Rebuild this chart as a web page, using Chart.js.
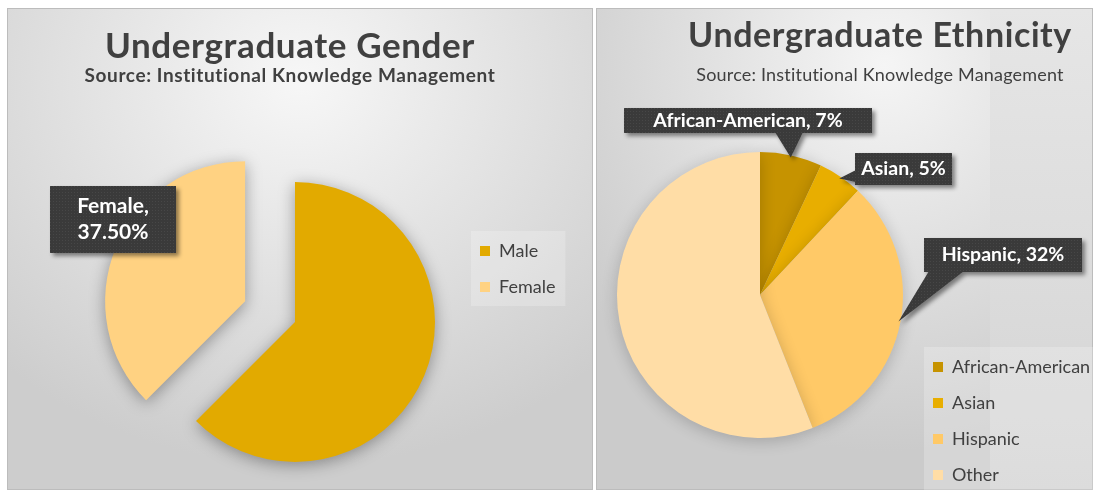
<!DOCTYPE html>
<html>
<head>
<meta charset="utf-8">
<title>Undergraduate Gender and Ethnicity</title>
<script src="https://cdn.jsdelivr.net/npm/chart.js@4.4.1/dist/chart.umd.min.js"></script>
<style>
  html, body { margin: 0; padding: 0; background: #fff; }
  body { width: 1097px; height: 492px; position: relative; overflow: hidden; font-family: Lato, "Open Sans", sans-serif; }
  .panel { position: absolute; top: 8px; height: 482px; overflow: hidden; box-shadow: inset 0 0 0 1px #bcbcbc; }
  #leftPanel {
    left: 7px; width: 586px;
    background: radial-gradient(ellipse 75% 80% at 50% 15%, #f7f7f7 0%, #e4e4e4 45%, #cdcdcd 100%);
  }
  #rightPanel {
    left: 596px; width: 497px;
    background:
      linear-gradient(#e6e6e6, #dbdbdb 60%, #d3d3d3) 394px 0 / 103px 100% no-repeat,
      radial-gradient(ellipse 75% 80% at 58% 12%, #f5f5f5 0%, #e2e2e2 45%, #cbcbcb 100%);
  }
  .title { position: absolute; white-space: nowrap; color: #404040; transform: translateX(-50%); line-height: 1.2; }
  canvas { position: absolute; left: 0; top: 0; }
</style>
</head>
<body>
<div class="panel" id="leftPanel">
  <canvas id="genderChart" width="586" height="482"></canvas>
  <div class="title" style="left:283px; top:14.5px; font-size:35px; font-weight:700; letter-spacing:0.6px;">Undergraduate Gender</div>
  <div class="title" style="left:283px; top:56px; font-size:19px; font-weight:700; letter-spacing:0.6px;">Source: Institutional Knowledge Management</div>
</div>
<div class="panel" id="rightPanel">
  <canvas id="ethnicChart" width="497" height="500"></canvas>
  <div class="title" style="left:284px; top:5.5px; font-size:34px; font-weight:700; letter-spacing:0.6px;">Undergraduate Ethnicity</div>
  <div class="title" style="left:284px; top:56px; font-size:18px; font-weight:400; letter-spacing:0.2px;">Source: Institutional Knowledge Management</div>
</div>
<script>
// ---------- data ----------
var genderLabels = ["Male", "Female"];
var genderValues = [62.5, 37.5];
var genderColors = ["#E2AA00", "#FFD282"];

var ethnicLabels = ["African-American", "Asian", "Hispanic", "Other"];
var ethnicValues = [7, 5, 32, 56];
var ethnicColors = ["#C69300", "#E8AE00", "#FFC967", "#FFDDA6"];

// ---------- pie whose slices can be pulled straight out (Excel style) ----------
class ExplodedPieController extends Chart.PieController {
  draw() {
    var ctx = this.chart.ctx;
    var area = this.chart.chartArea;
    var explode = this.getDataset().explode || [];
    this._cachedMeta.data.forEach(function (arc, i) {
      var d = explode[i] || 0;
      var mid = (arc.startAngle + arc.endAngle) / 2;
      ctx.save();
      ctx.translate(Math.cos(mid) * d, Math.sin(mid) * d);
      arc.draw(ctx, area);
      ctx.restore();
    });
  }
}
ExplodedPieController.id = "explodedPie";
Chart.register(ExplodedPieController);

// ---------- dark callout texture ----------
function makePattern(ctx) {
  var c = document.createElement("canvas");
  c.width = 3; c.height = 3;
  var p = c.getContext("2d");
  p.fillStyle = "#3a3a3a";
  p.fillRect(0, 0, 3, 3);
  p.fillStyle = "#474747";
  p.fillRect(1, 1, 1, 1);
  return ctx.createPattern(c, "repeat");
}

// slice shadow, legend backdrop and data label callouts
var calloutPlugin = {
  id: "callouts",
  beforeDraw: function (chart, args, opts) {
    var lg = chart.legend;
    if (!lg || !lg.legendHitBoxes.length) return;
    var hb = lg.legendHitBoxes;
    var x0 = hb[0].left - 9, y0 = hb[0].top - 11;
    var x1 = 0, y1 = 0;
    hb.forEach(function (h) {
      x1 = Math.max(x1, h.left + h.width + 10);
      y1 = Math.max(y1, h.top + h.height + 10);
    });
    var ctx = chart.ctx;
    ctx.save();
    ctx.fillStyle = "rgba(255,255,255,0.22)";
    ctx.fillRect(x0, y0, x1 - x0, y1 - y0);
    ctx.restore();
  },
  beforeDatasetsDraw: function (chart, args, opts) {
    var ctx = chart.ctx;
    ctx.save();
    ctx.shadowColor = opts.shadow;
    ctx.shadowBlur = 16;
    ctx.shadowOffsetY = 3;
  },
  afterDatasetsDraw: function (chart, args, opts) {
    var ctx = chart.ctx;
    ctx.restore();
    var meta = chart.getDatasetMeta(0);
    var ds = chart.data.datasets[0];
    var labels = chart.data.labels;
    var pattern = makePattern(ctx);
    opts.boxes.forEach(function (b) {
      var arc = meta.data[b.index];
      var p = arc.getProps(["x", "y", "startAngle", "endAngle", "outerRadius"], true);
      var mid = (p.startAngle + p.endAngle) / 2;
      var r = p.outerRadius - 2 + ((ds.explode || [])[b.index] || 0);
      var tx = p.x + Math.cos(mid) * r;
      var ty = p.y + Math.sin(mid) * r;

      ctx.save();
      ctx.shadowColor = "rgba(0,0,0,0.45)";
      ctx.shadowBlur = 4;
      ctx.shadowOffsetX = 3;
      ctx.shadowOffsetY = 3;
      ctx.fillStyle = pattern;
      ctx.beginPath();
      ctx.rect(b.x, b.y, b.w, b.h);
      if (b.side === "bottom") {
        var by = b.y + b.h - 1;
        ctx.moveTo(b.base[1], by);
        ctx.lineTo(tx, ty);
        ctx.lineTo(b.base[0], by);
        ctx.closePath();
      } else if (b.side === "left") {
        var bx = b.x + 1;
        ctx.moveTo(bx, b.base[1]);
        ctx.lineTo(tx, ty);
        ctx.lineTo(bx, b.base[0]);
        ctx.closePath();
      }
      ctx.fill();
      ctx.restore();

      var text = opts.format(labels[b.index], ds.data[b.index]);
      var lines = b.split ? text.split(" ") : [text];
      ctx.save();
      ctx.fillStyle = "#ffffff";
      ctx.font = "bold " + opts.fontSize + "px Lato";
      ctx.textAlign = "center";
      ctx.textBaseline = "middle";
      var lh = 26;
      var cy = b.y + b.h / 2 - (lines.length - 1) * lh / 2;
      lines.forEach(function (ln, i) {
        ctx.fillText(ln, b.x + b.w / 2, cy + i * lh);
      });
      ctx.restore();
    });
  }
};

// legend sits on the right; its left edge is pinned by measuring the longest label
var LEGEND_FONT = 18, LEGEND_PAD = 18, LEGEND_BOX = 10;
function legendWidth(labels) {
  var m = document.createElement("canvas").getContext("2d");
  m.font = LEGEND_FONT + "px Lato";
  var w = 0;
  labels.forEach(function (t) { w = Math.max(w, m.measureText(t).width); });
  return LEGEND_PAD + LEGEND_BOX + LEGEND_FONT / 2 + w + 10;
}
function legendOpts(align) {
  return {
    position: "right",
    align: align,
    labels: {
      boxWidth: LEGEND_BOX,
      boxHeight: LEGEND_BOX,
      padding: LEGEND_PAD,
      color: "#404040",
      font: { family: "Lato", size: LEGEND_FONT }
    }
  };
}

// ---------- gender pie ----------
var gCanvas = document.getElementById("genderChart");
var gLegendLeft = 455;
new Chart(gCanvas, {
  type: "explodedPie",
  data: {
    labels: genderLabels,
    datasets: [{
      data: genderValues,
      backgroundColor: genderColors,
      borderWidth: 0,
      explode: [0, 54],
      radius: 140,
      clip: false
    }]
  },
  options: {
    responsive: false,
    animation: false,
    layout: { padding: { left: 121, right: gCanvas.width - gLegendLeft - legendWidth(genderLabels), top: 216, bottom: 70 } },
    plugins: {
      legend: legendOpts("start"),
      tooltip: { enabled: false },
      callouts: {
        shadow: "rgba(0,0,0,0.35)",
        fontSize: 21,
        format: function (label, v) { return label + ", " + v.toFixed(2) + "%"; },
        boxes: [{ index: 1, x: 43, y: 178, w: 126, h: 67, split: true }]
      }
    }
  },
  plugins: [calloutPlugin]
});

// ---------- ethnicity pie ----------
var eCanvas = document.getElementById("ethnicChart");
var eLegendLeft = 319;
new Chart(eCanvas, {
  type: "explodedPie",
  data: {
    labels: ethnicLabels,
    datasets: [{
      data: ethnicValues,
      backgroundColor: ethnicColors,
      borderWidth: 0,
      radius: 143,
      clip: false
    }]
  },
  options: {
    responsive: false,
    animation: false,
    layout: { padding: { left: 9, right: eCanvas.width - eLegendLeft - legendWidth(ethnicLabels), top: 80, bottom: 6 } },
    plugins: {
      legend: legendOpts("end"),
      tooltip: { enabled: false },
      callouts: {
        shadow: "rgba(0,0,0,0.2)",
        fontSize: 19.5,
        format: function (label, v) { return label + ", " + v + "%"; },
        boxes: [
          { index: 0, x: 28, y: 100, w: 248, h: 25, side: "bottom", base: [179, 207] },
          { index: 1, x: 259, y: 145, w: 97, h: 32, side: "left", base: [162, 174] },
          { index: 2, x: 328, y: 230, w: 158, h: 34, side: "bottom", base: [333, 368] }
        ]
      }
    }
  },
  plugins: [calloutPlugin]
});
</script>
</body>
</html>
